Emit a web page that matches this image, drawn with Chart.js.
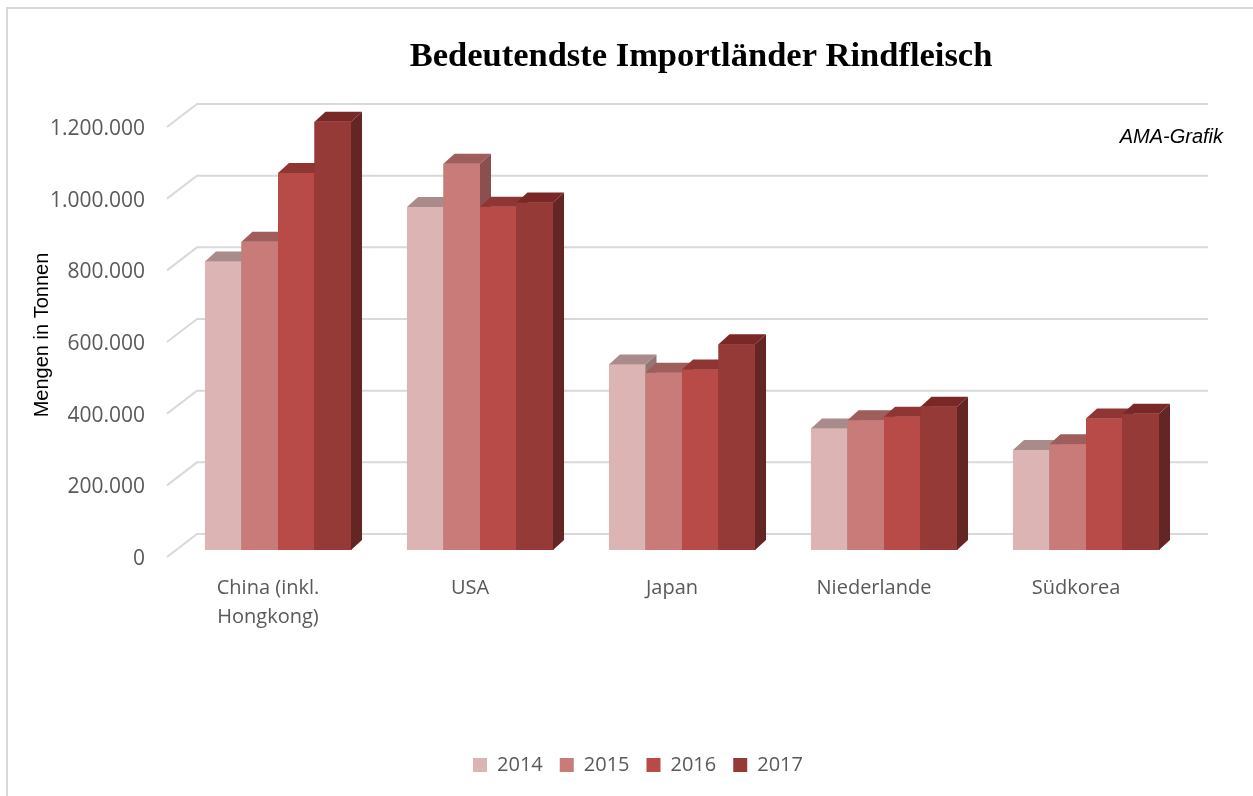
<!DOCTYPE html>
<html>
<head>
<meta charset="utf-8">
<script src="https://cdn.jsdelivr.net/npm/chart.js@4.4.0/dist/chart.umd.min.js"></script>
<style>
  html, body { margin: 0; padding: 0; background: #fff; }
  #wrap { width: 1253px; height: 796px; position: relative; }
</style>
</head>
<body>
<div id="wrap"><canvas id="importChart"></canvas></div>
<script>
// Bedeutendste Importländer Rindfleisch (Tonnen)
const countries = [["China (inkl.", "Hongkong)"], "USA", "Japan", "Niederlande", "Südkorea"];
const years = ["2014", "2015", "2016", "2017"];
const values2014 = [805000, 957000, 518000, 339000, 279000];
const values2015 = [860000, 1078000, 495000, 362000, 295000];
const values2016 = [1052000, 958000, 504000, 372000, 367000];
const values2017 = [1195000, 970000, 574000, 400000, 380000];
const yTicks = [0, 200000, 400000, 600000, 800000, 1000000, 1200000];

const frontColors = ["#dcb4b4", "#c97b7a", "#b84b48", "#963a38"];
const topColors = ["#a98b8b", "#9f5d5c", "#8f3533", "#7a2827"];
const sideColors = ["#947575", "#8a5050", "#7a2d2b", "#642525"];

// depth of the bars (oblique 3d look)
const barDepth = { dx: 11, dy: -10 };
const GRID = "#d9d9d9";

function fmt(v) {
  return String(v).replace(/\B(?=(\d{3})+(?!\d))/g, ".");
}

const fake3d = {
  id: "fake3d",
  beforeDraw(chart) {
    const { ctx, width, height } = chart;
    ctx.save();
    ctx.strokeStyle = GRID;
    ctx.lineWidth = 2;
    ctx.beginPath();
    ctx.moveTo(7, height);
    ctx.lineTo(7, 8);
    ctx.lineTo(width, 8);
    ctx.stroke();
    ctx.restore();
  },
  beforeDatasetsDraw(chart) {
    const { ctx, chartArea } = chart;
    const y = chart.scales.y;
    ctx.save();
    ctx.strokeStyle = GRID;
    ctx.lineWidth = 2;
    yTicks.forEach((v) => {
      const py = y.getPixelForValue(v);
      ctx.beginPath();
      ctx.moveTo(chartArea.left - 10, py + 7);
      ctx.lineTo(chartArea.left + 20, py - 16);
      ctx.lineTo(chartArea.right + 21, py - 16);
      ctx.stroke();
    });
    ctx.restore();
  },
  afterDatasetsDraw(chart) {
    const { ctx } = chart;
    ctx.save();
    chart.data.datasets.forEach((ds, i) => {
      const meta = chart.getDatasetMeta(i);
      meta.data.forEach((bar) => {
        const { x, y, base, width } = bar.getProps(["x", "y", "base", "width"], true);
        const l = x - width / 2;
        const r = x + width / 2;
        ctx.fillStyle = frontColors[i];
        ctx.fillRect(l, y, width + 0.6, base - y);
        ctx.fillStyle = topColors[i];
        ctx.beginPath();
        ctx.moveTo(l, y);
        ctx.lineTo(l + barDepth.dx, y + barDepth.dy);
        ctx.lineTo(r + barDepth.dx, y + barDepth.dy);
        ctx.lineTo(r, y);
        ctx.closePath();
        ctx.fill();
        ctx.fillStyle = sideColors[i];
        ctx.beginPath();
        ctx.moveTo(r, y);
        ctx.lineTo(r + barDepth.dx, y + barDepth.dy);
        ctx.lineTo(r + barDepth.dx, base + barDepth.dy);
        ctx.lineTo(r, base);
        ctx.closePath();
        ctx.fill();
      });
    });
    ctx.restore();
  },
  afterDraw(chart) {
    const { ctx } = chart;
    ctx.save();
    ctx.fillStyle = "#000";
    ctx.textBaseline = "middle";
    ctx.textAlign = "center";
    ctx.font = "bold 34.5px 'Liberation Serif', 'Times New Roman', serif";
    ctx.fillText("Bedeutendste Importländer Rindfleisch", 701, 57);
    ctx.font = "italic 20px 'Liberation Sans', Arial, sans-serif";
    ctx.textAlign = "right";
    ctx.fillText("AMA-Grafik", 1223, 137);
    ctx.restore();
  },
};

const seriesList = [values2014, values2015, values2016, values2017];

new Chart(document.getElementById("importChart"), {
  type: "bar",
  data: {
    labels: countries,
    datasets: years.map((yr, i) => ({
      label: yr,
      data: seriesList[i],
      backgroundColor: frontColors[i],
      borderWidth: 0,
      categoryPercentage: 0.723,
      barPercentage: 1.0,
    })),
  },
  options: {
    responsive: true,
    maintainAspectRatio: false,
    animation: false,
    layout: { padding: { top: 120, left: 23, right: 0, bottom: 11 } },
    plugins: {
      title: { display: false },
      legend: {
        position: "bottom",
        labels: {
          boxWidth: 14,
          boxHeight: 14,
          padding: 17,
          color: "#595959",
          font: { family: "'Open Sans', sans-serif", size: 20 },
        },
      },
      tooltip: { enabled: false },
    },
    scales: {
      x: {
        grid: { display: false },
        border: { display: false },
        ticks: {
          color: "#595959",
          font: { family: "'Open Sans', sans-serif", size: 20, lineHeight: 1.45 },
          padding: 16,
          labelOffset: -10,
          maxRotation: 0,
        },
        afterFit: (scale) => { scale.height = 188; },
      },
      y: {
        min: 0,
        max: 1200000,
        grid: { display: false },
        border: { display: false },
        afterBuildTicks: (scale) => { scale.ticks = yTicks.map((v) => ({ value: v })); },
        ticks: {
          color: "#595959",
          font: { family: "'Open Sans', sans-serif", size: 21 },
          padding: 24,
          labelOffset: 9,
          callback: (v) => fmt(v),
        },
        title: {
          display: true,
          text: "Mengen in Tonnen",
          color: "#000",
          font: { family: "'Liberation Sans', Arial, sans-serif", size: 20 },
          padding: { top: 7, bottom: 0 },
        },
        afterFit: (scale) => { scale.width = 154; },
      },
      // empty right-hand spacer so the plot ends where the reference ends
      spacer: {
        axis: "y",
        position: "right",
        grid: { display: false },
        border: { display: false },
        ticks: { display: false },
        afterFit: (scale) => { scale.width = 66; },
      },
    },
  },
  plugins: [fake3d],
});
</script>
</body>
</html>
